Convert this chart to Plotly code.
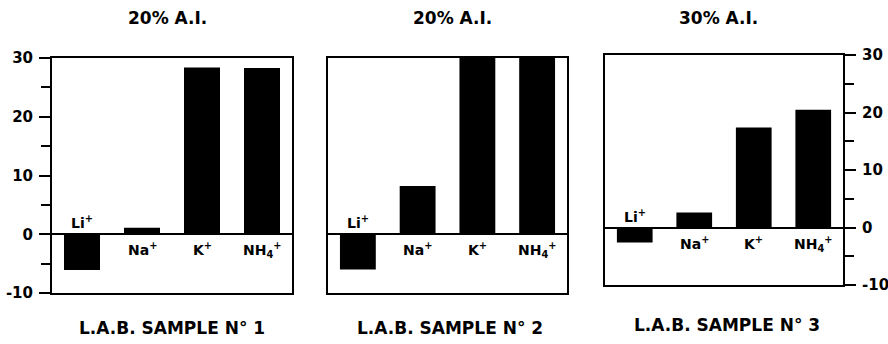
import plotly.graph_objects as go

ions = ["Li", "Na", "K", "NH4"]
ion_labels = ["Li<sup>+</sup>", "Na<sup>+</sup>", "K<sup>+</sup>", "NH<sub>4</sub><sup>+</sup>"]
sample1 = [-6.1, 1.1, 28.4, 28.3]
sample2 = [-6.0, 8.2, 30.0, 30.0]
sample3 = [-2.6, 2.6, 17.4, 20.5]
titles = ["20% A.I.", "20% A.I.", "30% A.I."]
samples = ["L.A.B. SAMPLE N° 1", "L.A.B. SAMPLE N° 2", "L.A.B. SAMPLE N° 3"]
major_ticks = [-10, 0, 10, 20, 30]
major_text = ["-10", "0", "10", "20", "30"]

W, H = 888, 344
FONT = "DejaVu Sans"

def px_x(a, b):
    return [a / W, b / W]

def px_y(top, bottom):
    return [1 - bottom / H, 1 - top / H]

panels = [
    dict(data=sample1, xd=px_x(52, 292), yd=px_y(58, 293), side="left", labels=True),
    dict(data=sample2, xd=px_x(328, 567), yd=px_y(58, 293), side="left", labels=False),
    dict(data=sample3, xd=px_x(605, 843), yd=px_y(55, 285), side="right", labels=True),
]
title_x = [167, 452, 718]
title_y = [18, 18, 18]
sample_x = [172, 450, 727]
sample_y = [328, 328, 325]

fig = go.Figure()
annotations = []
for i, p in enumerate(panels):
    n = "" if i == 0 else str(i + 1)
    xa, ya = "x" + n, "y" + n
    fig.add_trace(go.Bar(x=ions, y=p["data"], xaxis=xa, yaxis=ya,
                         marker=dict(color="black", line=dict(width=0)),
                         width=0.6, showlegend=False))
    fig.layout["xaxis" + n] = dict(domain=p["xd"], anchor=ya, showticklabels=False,
                                   ticks="", showline=True, mirror=True, linecolor="black",
                                   linewidth=2, showgrid=False, fixedrange=True,
                                   automargin=False)
    yax = dict(domain=p["yd"], anchor=xa, range=[-10, 30], showline=True, mirror=True,
               linecolor="black", linewidth=2, showgrid=False, zeroline=True,
               zerolinecolor="black", zerolinewidth=2, side=p["side"], automargin=False)
    if p["labels"]:
        yax.update(tickvals=major_ticks, ticktext=major_text, ticks="outside", ticklen=11,
                   tickwidth=2, tickcolor="black", ticklabelstandoff=3,
                   tickfont=dict(family=FONT, size=15, color="black", weight="bold"),
                   minor=dict(dtick=5, tick0=0, ticks="outside", ticklen=9, tickwidth=2,
                              tickcolor="black", showgrid=False))
    else:
        yax.update(showticklabels=False, ticks="")
    fig.layout["yaxis" + n] = yax
    for ion, lab, v in zip(ions, ion_labels, p["data"]):
        neg = v < 0
        annotations.append(dict(x=ion, y=0, xref=xa, yref=ya, text=lab, showarrow=False,
                                yanchor="bottom" if neg else "top",
                                yshift=1 if neg else -4,
                                font=dict(family=FONT, size=14, color="black", weight="bold")))
    annotations.append(dict(x=title_x[i] / W, y=1 - title_y[i] / H, xref="paper", yref="paper",
                            text=titles[i], showarrow=False, xanchor="center", yanchor="middle",
                            font=dict(family=FONT, size=17, color="black", weight="bold")))
    annotations.append(dict(x=sample_x[i] / W, y=1 - sample_y[i] / H, xref="paper", yref="paper",
                            text=samples[i], showarrow=False, xanchor="center", yanchor="middle",
                            font=dict(family=FONT, size=17, color="black", weight="bold")))

fig.update_layout(width=W, height=H, margin=dict(l=0, r=0, t=0, b=0),
                  paper_bgcolor="white", plot_bgcolor="white",
                  annotations=annotations, bargap=0.4,
                  font=dict(family=FONT, color="black"))

fig.write_html("out.html", config={"displayModeBar": False},
               post_script="document.body.style.margin='0';document.body.style.padding='0';")
